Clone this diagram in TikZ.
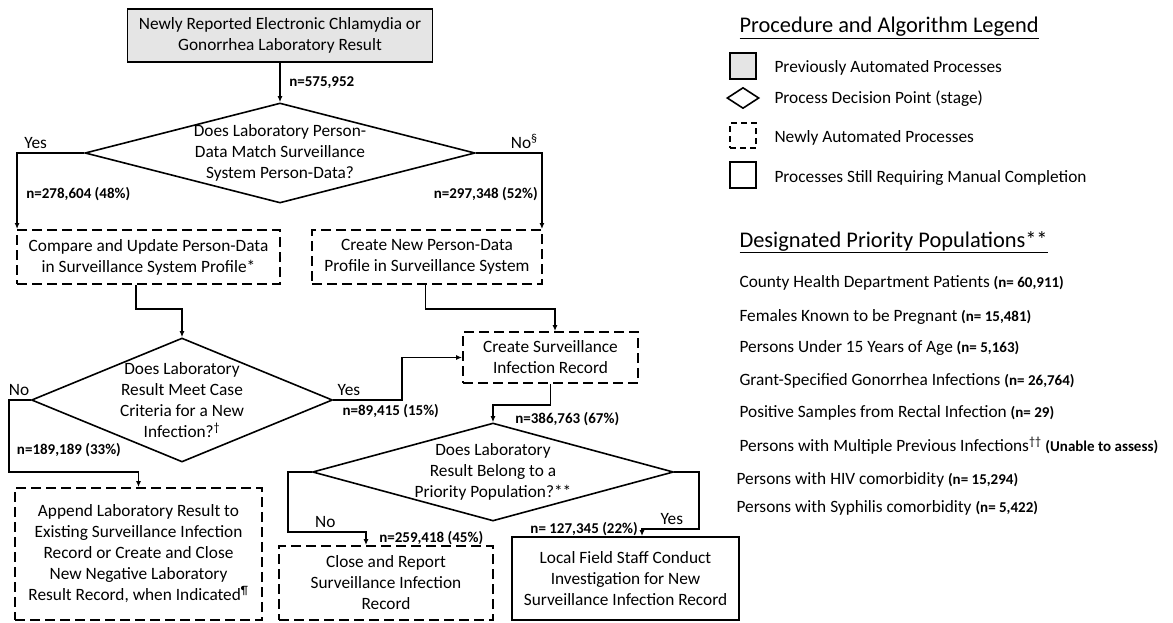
\documentclass[tikz,border=0pt]{standalone}
\usepackage{fontspec}
\setmainfont{Carlito}
\usetikzlibrary{shapes.geometric}
\usetikzlibrary{calc}
\usetikzlibrary{arrows.meta}
\tikzset{>={Latex[length=6pt,width=5pt]}}
\newcommand{\bodyfont}{\fontsize{17.3}{21}\selectfont}
\newcommand{\cntfont}{\fontsize{15}{18}\selectfont\bfseries}
\newcommand{\headfont}{\fontsize{22.4}{27}\selectfont}
\newcommand{\popn}[1]{{\cntfont #1}}

\begin{document}
\begin{tikzpicture}[x=1pt,y=-1pt,
	every node/.style={font=\bodyfont},
	proc/.style={draw,line width=1.9pt,inner sep=0pt,align=center},
	autoproc/.style={proc,dash pattern=on 10pt off 5pt},
	oldproc/.style={proc,fill=gray!20},
	decision/.style={diamond,draw,line width=1.6pt,inner sep=0pt},
	count/.style={font=\cntfont},
	link/.style={line width=1.9pt,->}]

	\useasboundingbox (0,0) rectangle (1173,622);

	\node[oldproc,minimum width=305,minimum height=53] (report) at (280,35.5) {Newly Reported Electronic Chlamydia or\\Gonorrhea Laboratory Result};
	\node[decision,minimum width=390,minimum height=100,label={[align=center]center:{Does Laboratory Person-\\Data Match Surveillance\\System Person-Data?}}] (match) at (280,153) {};
	\node[autoproc,minimum width=263,minimum height=54] (update) at (148.5,257) {Compare and Update Person-Data\\in Surveillance System Profile*};
	\node[autoproc,minimum width=230,minimum height=54] (newprof) at (427,257) {Create New Person-Data\\Profile in Surveillance System};
	\node[decision,minimum width=301,minimum height=124,label={[align=center]center:{Does Laboratory\\Result Meet Case\\Criteria for a New\\Infection?\textsuperscript{†}}}] (criteria) at (182,400) {};
	\node[autoproc,minimum width=175,minimum height=51] (infrec) at (550.5,357.5) {Create Surveillance\\Infection Record};
	\node[autoproc,minimum width=247,minimum height=132] (append) at (138.5,554) {Append Laboratory Result to\\Existing Surveillance Infection\\Record or Create and Close\\New Negative Laboratory\\Result Record, when Indicated\textsuperscript{¶}};
	\node[decision,minimum width=361,minimum height=98,label={[align=center]center:{Does Laboratory\\Result Belong to a\\Priority Population?**}}] (priority) at (493,472) {};
	\node[autoproc,minimum width=214,minimum height=74] (close) at (386,583) {Close and Report\\Surveillance Infection\\Record};
	\node[proc,minimum width=227,minimum height=83] (field) at (625.5,578.5) {Local Field Staff Conduct\\Investigation for New\\Surveillance Infection Record};

	\draw[link] (report) -- node[right,count,xshift=5]{n=575,952} (match);
	\draw[link] (match.west) -| node[pos=0.5,above right,xshift=3]{Yes} node[pos=0.77,right,count,xshift=5]{n=278,604 (48\%)} ([xshift=1]update.north west);
	\draw[link] (match.east) -| node[pos=0.5,above left]{No\textsuperscript{\S}} node[pos=0.77,left,count]{n=297,348 (52\%)} ([xshift=-1]newprof.north east);
	\draw[link] ([xshift=-12.5]update.south) -- ++(0,24) -| (criteria.north);
	\draw[link] ([xshift=-1.5]newprof.south) -- ++(0,24) -| ([xshift=4.5]infrec.north);
	\draw[link] (criteria.west) -- node[pos=1,above right,xshift=-4]{No} ++(-22,0) |- node[pos=0.35,right,count,xshift=4]{n=189,189 (33\%)} ($(append.north)+(0,-15)$) -- (append.north);
	\draw[link] (criteria.east) -- node[pos=0,above right]{Yes} node[pos=0,below right,count,xshift=5]{n=89,415 (15\%)} ++(69,0) |- (infrec.west);
	\draw[link] (infrec.south) -- ++(0,21) -| node[pos=0.9,right,count,xshift=18]{n=386,763 (67\%)} (priority.north);
	\draw[link] (priority.west) -- ++(-24,0) |- node[pos=0.74,above]{No} ($([xshift=-20]close.north)+(0,-13)$) -- node[right,count,xshift=9]{n=259,418 (45\%)} ([xshift=-20]close.north);
	\draw[link] (priority.east) -- ++(25,0) |- node[pos=0.74,above]{Yes} ($([xshift=16.5]field.north)+(0,-7)$) -- node[left,count,yshift=3]{n= 127,345 (22\%)} ([xshift=16.5]field.north);

	\node[anchor=west,font=\headfont] (legtitle) at (736,28) {\underline{Procedure and Algorithm Legend}};
	\node[oldproc,minimum width=26,minimum height=26] (legold) at (743,66) {};
	\node[decision,minimum width=32,minimum height=21] (legdec) at (743,98) {};
	\node[autoproc,dash pattern=on 6pt off 4pt,minimum width=26,minimum height=25] (legnew) at (743,135.5) {};
	\node[proc,minimum width=26,minimum height=26] (legman) at (743,175) {};
	\node[anchor=west] (legoldtxt) at (771,68) {Previously Automated Processes};
	\node[anchor=west] (legdectxt) at (771,99) {Process Decision Point (stage)};
	\node[anchor=west] (legnewtxt) at (771,138) {Newly Automated Processes};
	\node[anchor=west] (legmantxt) at (771,178) {Processes Still Requiring Manual Completion};

	\node[anchor=west,font=\headfont] (poptitle) at (736,242) {\underline{Designated Priority Populations**}};
	\node[anchor=west] (popcounty) at (736,283) {County Health Department Patients \popn{(n= 60,911)}};
	\node[anchor=west] (poppreg) at (736,317) {Females Known to be Pregnant \popn{(n= 15,481)}};
	\node[anchor=west] (popyoung) at (736,348) {Persons Under 15 Years of Age \popn{(n= 5,163)}};
	\node[anchor=west] (popgrant) at (736,381) {Grant-Specified Gonorrhea Infections \popn{(n= 26,764)}};
	\node[anchor=west] (poprectal) at (736,413) {Positive Samples from Rectal Infection \popn{(n= 29)}};
	\node[anchor=west] (popmulti) at (736,446) {Persons with Multiple Previous Infections\textsuperscript{††} \popn{(Unable to assess)}};
	\node[anchor=west] (pophiv) at (733,480) {Persons with HIV comorbidity \popn{(n= 15,294)}};
	\node[anchor=west] (popsyph) at (733,508) {Persons with Syphilis comorbidity \popn{(n= 5,422)}};
\end{tikzpicture}
\end{document}
